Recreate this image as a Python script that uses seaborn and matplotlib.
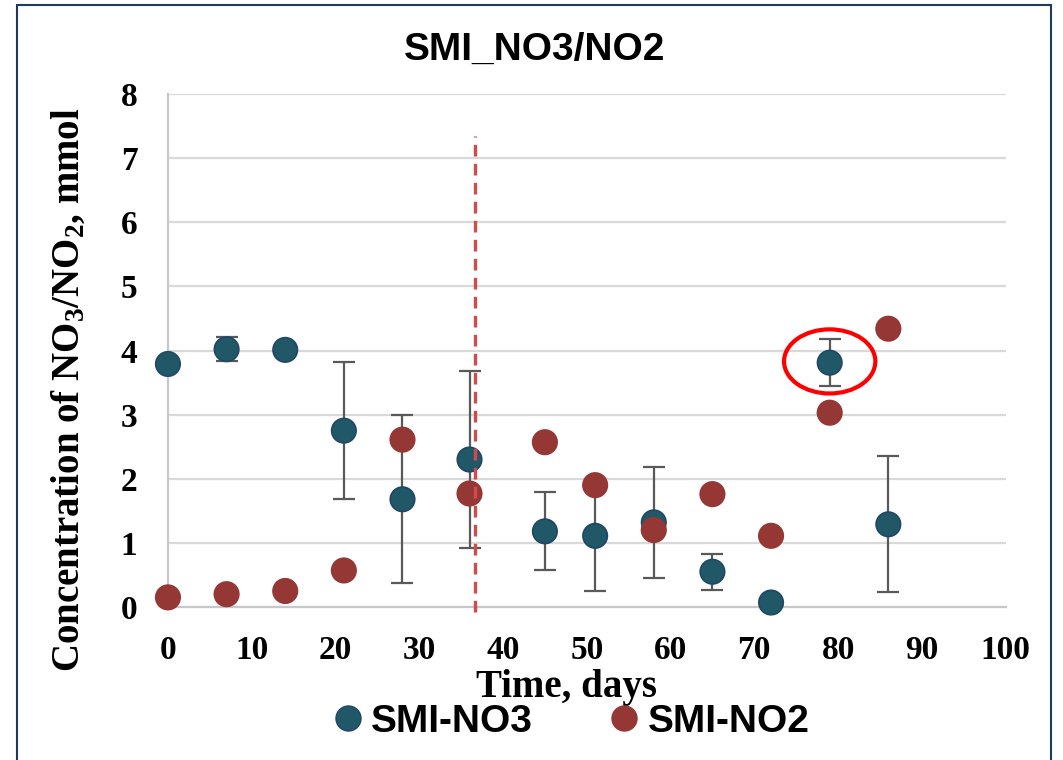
import pandas as pd
import seaborn as sns
import matplotlib.pyplot as plt
from matplotlib.lines import Line2D
from matplotlib.patches import Ellipse, Rectangle

# data
days = [0, 7, 14, 21, 28, 36, 45, 51, 58, 65, 72, 79, 86]
no3 = [3.79, 4.02, 4.01, 2.75, 1.68, 2.30, 1.18, 1.11, 1.32, 0.55, 0.07, 3.81, 1.29]
no3_err = [0.0, 0.19, 0.0, 1.07, 1.31, 1.38, 0.61, 0.86, 0.87, 0.28, 0.0, 0.37, 1.06]
no2 = [0.15, 0.20, 0.25, 0.57, 2.61, 1.77, 2.57, 1.90, 1.20, 1.76, 1.11, 3.03, 4.34]
switch_day = 36.6
highlight = 11  # index of the circled NO3 point

blue = '#215868'
red = '#953735'

df = pd.DataFrame({
    'day': days * 2,
    'value': no3 + no2,
    'series': ['SMI-NO3'] * len(days) + ['SMI-NO2'] * len(days),
})

sns.set_theme(style='white')
plt.rcParams['text.color'] = 'black'
plt.rcParams['mathtext.fontset'] = 'custom'
plt.rcParams['mathtext.rm'] = 'Liberation Serif:bold'
plt.rcParams['mathtext.bf'] = 'Liberation Serif:bold'
plt.rcParams['mathtext.it'] = 'Liberation Serif:bold'
plt.rcParams['mathtext.default'] = 'rm'

fig = plt.figure(figsize=(10.63, 7.6), dpi=100)
ax = fig.add_axes([0.158, 0.2013, 0.788, 0.675])

# error bars (NO3 only), behind the markers
ax.errorbar(days, no3, yerr=no3_err, fmt='none', ecolor='#595959',
            elinewidth=1.6, capsize=8, capthick=1.6, zorder=2, clip_on=False)

sns.scatterplot(data=df, x='day', y='value', hue='series',
                palette={'SMI-NO3': blue, 'SMI-NO2': red},
                s=310, linewidth=1.2, edgecolor=None, legend=False,
                ax=ax, zorder=3, clip_on=False)
# darker edge on the blue points
coll = ax.collections[-1]
edges = [('#1F4766' if s == 'SMI-NO3' else red) for s in df['series']]
coll.set_edgecolors(edges)

# treatment change line
ax.vlines(switch_day, -0.08, 7.35, colors='#D24B4B', linestyles=(0, (3.5, 2.2)),
          linewidth=2.4, zorder=4, clip_on=False)

# red ring around the highlighted point
ax.add_patch(Ellipse((days[highlight], no3[highlight] + 0.02), 10.9, 1.0,
                     fill=False, edgecolor='#FF0000', linewidth=3, zorder=5))

ax.set_xlim(0, 100)
ax.set_ylim(0, 8)
ax.set_xticks(range(0, 101, 10))
ax.set_yticks(range(0, 9))
ax.grid(axis='y', color='#D9D9D9', linewidth=1.6)
ax.set_axisbelow(True)
for side in ['top', 'right']:
    ax.spines[side].set_visible(False)
ax.spines['left'].set_color('#C8C8C8')
ax.spines['left'].set_linewidth(1.6)
ax.spines['bottom'].set_color('#C8C8C8')
ax.spines['bottom'].set_linewidth(1.6)
ax.tick_params(length=0)
for lab in ax.get_xticklabels() + ax.get_yticklabels():
    lab.set_fontfamily('Liberation Serif')
    lab.set_fontweight('bold')
    lab.set_fontsize(24)
    lab.set_color('black')
ax.tick_params(axis='x', pad=20)
ax.tick_params(axis='y', pad=22)

ax.set_xlabel('Time, days', fontfamily='Liberation Serif', fontweight='bold',
              fontsize=28, color='black')
ax.xaxis.set_label_coords(0.476, -0.12)
ax.set_ylabel('Concentration of NO$_3$/NO$_2$, mmol', fontfamily='Liberation Serif',
              fontweight='bold', fontsize=28, color='black')
ax.yaxis.set_label_coords(-0.096, 0.423)

fig.text(0.503, 0.935, 'SMI_NO3/NO2', ha='center', va='center', color='black',
         fontfamily='Liberation Sans', fontweight='bold', fontsize=28)

handles = [Line2D([], [], marker='o', linestyle='none', markersize=18,
                  markerfacecolor=blue, markeredgecolor='#1F4766'),
           Line2D([], [], marker='o', linestyle='none', markersize=18,
                  markerfacecolor=red, markeredgecolor=red)]
fig.legend(handles, ['SMI-NO3', 'SMI-NO2'], loc='center', ncol=2,
           bbox_to_anchor=(0.538, 0.05), frameon=False, handlelength=0.7,
           handletextpad=0.25, columnspacing=2.0, labelcolor='black',
           prop={'family': 'Liberation Sans', 'weight': 'bold', 'size': 28})

# outer chart border
fig.patches.append(Rectangle((17 / 1063, -0.01), (1051 - 17) / 1063, 1.01 - 5 / 760,
                             transform=fig.transFigure, fill=False,
                             edgecolor='#1F3A5F', linewidth=1.5))

fig.savefig('out.png', dpi=100)
